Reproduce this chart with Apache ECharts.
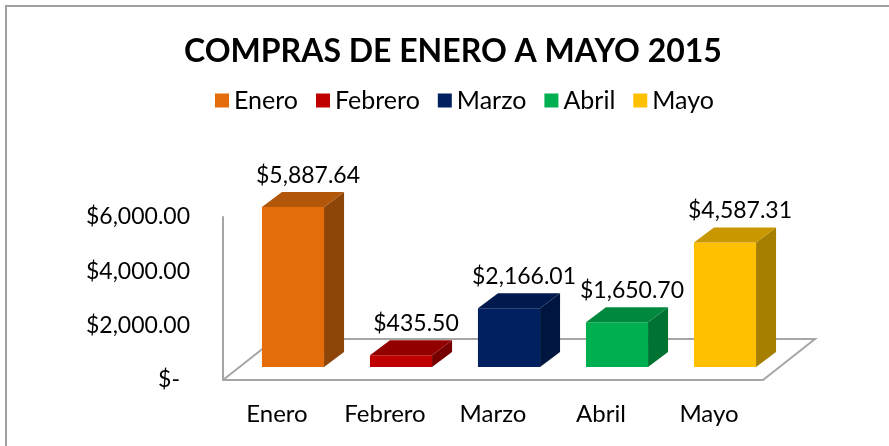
<!DOCTYPE html>
<html lang="es">
<head>
<meta charset="UTF-8">
<title>Compras de enero a mayo 2015</title>
<style>
html, body { margin: 0; padding: 0; background: #fff; }
#main { width: 889px; height: 446px; }
</style>
</head>
<body>
<div id="main"></div>

<script src="https://cdn.jsdelivr.net/npm/echarts@6/dist/echarts.min.js"></script>
<script>
var months = ['Enero', 'Febrero', 'Marzo', 'Abril', 'Mayo'];
var totals = [5887.64, 435.50, 2166.01, 1650.70, 4587.31];
var yTicks = [0, 2000, 4000, 6000];

var frontColors = ['#E46C0A', '#C00000', '#002060', '#00B050', '#FFC000'];
var topColors   = ['#B2560A', '#930000', '#001A4E', '#00893E', '#C99800'];
var sideColors  = ['#8E4508', '#760000', '#001640', '#007232', '#A67E00'];

var FONT = 'Lato';
// offsets used to fake the 3D look
var SHIFT_X = 16, SHIFT_Y = 13;   // bar front face sits a bit back on the floor
var DEPTH_X = 20, DEPTH_Y = 15;   // depth of each bar
var FLOOR_X = 52, FLOOR_Y = 41;   // depth of the floor

function money(v) {
    if (v === 0) return '{z|$-}';
    var parts = v.toFixed(2).split('.');
    parts[0] = parts[0].replace(/\B(?=(\d{3})+(?!\d))/g, ',');
    return '$' + parts.join('.');
}

function bar3d(i) {
    return function (params, api) {
        var base = api.coord([api.value(0), 0]);
        var tip = api.coord([api.value(0), api.value(1)]);
        var w = api.size([1, 0])[0] * 0.575;
        var x0 = base[0] + SHIFT_X - w / 2, x1 = x0 + w;
        var yb = base[1] - SHIFT_Y, yt = tip[1] - SHIFT_Y;
        return {
            type: 'group',
            children: [
                { type: 'rect', shape: { x: x0, y: yt, width: w, height: yb - yt },
                  style: { fill: frontColors[i] } },
                { type: 'polygon',
                  shape: { points: [[x1, yt], [x1 + DEPTH_X, yt - DEPTH_Y], [x1 + DEPTH_X, yb - DEPTH_Y], [x1, yb]] },
                  style: { fill: sideColors[i] } },
                { type: 'polygon',
                  shape: { points: [[x0, yt], [x1, yt], [x1 + DEPTH_X, yt - DEPTH_Y], [x0 + DEPTH_X, yt - DEPTH_Y]] },
                  style: { fill: topColors[i] } },
                { type: 'text', x: base[0] + 31, y: yt - DEPTH_Y - 5,
                  style: { text: money(api.value(1)), fontSize: 23, fontFamily: FONT, fill: '#000',
                           align: 'center', verticalAlign: 'bottom' } }
            ]
        };
    };
}

var series = [{
    type: 'custom',
    name: 'floor',
    silent: true,
    z: 1,
    data: [[0, 0]],
    renderItem: function (params, api) {
        var cs = params.coordSys;
        var l = cs.x, r = cs.x + cs.width, b = cs.y + cs.height;
        return {
            type: 'polyline',
            shape: { points: [[l, b], [l + FLOOR_X, b - FLOOR_Y], [r + FLOOR_X, b - FLOOR_Y], [r, b]] },
            style: { stroke: '#A6A6A6', lineWidth: 2, fill: null }
        };
    }
}];

months.forEach(function (m, i) {
    series.push({
        type: 'custom',
        name: m,
        z: 3,
        itemStyle: { color: frontColors[i] },
        data: [[i, totals[i]]],
        renderItem: bar3d(i)
    });
});

var myChart = echarts.init(document.getElementById('main'));

var option = {
    animation: false,
    title: {
        text: 'COMPRAS DE ENERO A MAYO 2015',
        left: 179,
        top: 31,
        textStyle: { fontFamily: FONT, fontSize: 32, fontWeight: 'bold', color: '#000' }
    },
    legend: {
        data: months,
        left: 210,
        top: 83,
        icon: 'rect',
        itemWidth: 14,
        itemHeight: 14,
        itemGap: 18,
        textStyle: { fontFamily: FONT, fontSize: 25, color: '#000' }
    },
    grid: {
        left: 223,
        right: 126,
        top: 217,
        bottom: 66
    },
    xAxis: {
        type: 'category',
        data: months,
        axisTick: { show: false },
        axisLine: { lineStyle: { color: '#A6A6A6', width: 2 } },
        axisLabel: { margin: 22, fontFamily: FONT, fontSize: 24, color: '#000' }
    },
    yAxis: {
        type: 'value',
        min: yTicks[0],
        max: yTicks[yTicks.length - 1],
        interval: yTicks[1] - yTicks[0],
        splitLine: { show: false },
        axisTick: { show: false },
        axisLine: { show: true, lineStyle: { color: '#A6A6A6', width: 2 } },
        axisLabel: {
            margin: 33,
            fontFamily: FONT,
            fontSize: 23,
            color: '#000',
            formatter: money,
            rich: { z: { fontFamily: FONT, fontSize: 23, color: '#000', padding: [0, 10, 0, 0] } }
        }
    },
    graphic: [{
        type: 'rect',
        silent: true,
        shape: { x: 6, y: 6, width: 1000, height: 1000 },
        style: { fill: null, stroke: '#A0A0A0', lineWidth: 2 }
    }],
    series: series
};

myChart.setOption(option);
</script>
</body>
</html>
